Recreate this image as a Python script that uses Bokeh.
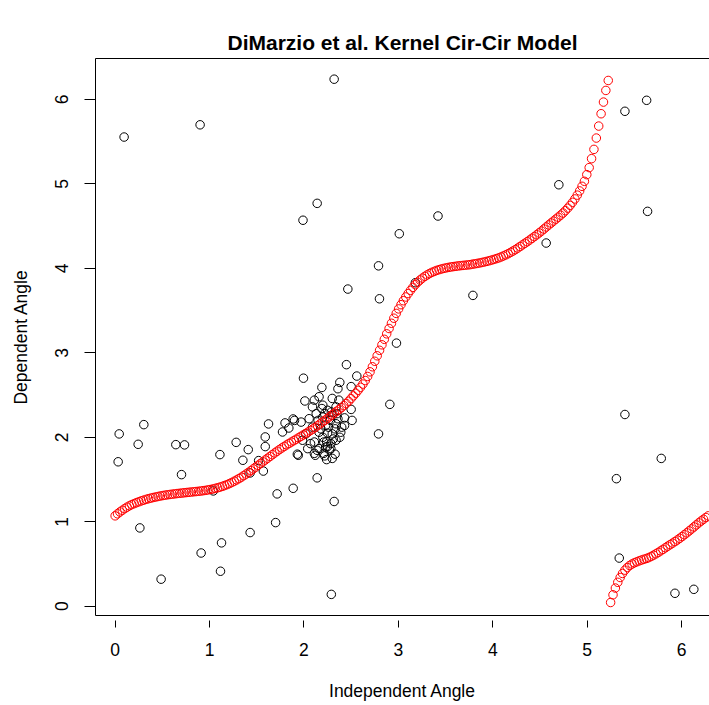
import numpy as np
from bokeh.plotting import figure
from bokeh.models import Range1d, FixedTicker, LinearAxis
from bokeh.embed import file_html
from bokeh.resources import INLINE

# ---- data ----
# kernel regression curve, evaluated on a 250-point grid over [0, 2*pi]
curve_y = [
    1.070, 1.094, 1.116, 1.136, 1.155, 1.173, 1.189, 1.203, 1.215, 1.226,
    1.237, 1.247, 1.256, 1.265, 1.273, 1.280, 1.287, 1.293, 1.299, 1.305,
    1.310, 1.315, 1.319, 1.323, 1.327, 1.330, 1.334, 1.337, 1.340, 1.343,
    1.346, 1.349, 1.352, 1.355, 1.358, 1.361, 1.364, 1.368, 1.372, 1.377,
    1.382, 1.388, 1.395, 1.402, 1.410, 1.419, 1.429, 1.440, 1.452, 1.465,
    1.480, 1.495, 1.511, 1.528, 1.546, 1.565, 1.585, 1.605, 1.626, 1.647,
    1.668, 1.689, 1.710, 1.731, 1.752, 1.773, 1.794, 1.815, 1.835, 1.855,
    1.874, 1.892, 1.910, 1.927, 1.944, 1.960, 1.977, 1.994, 2.011, 2.028,
    2.045, 2.062, 2.080, 2.098, 2.117, 2.137, 2.158, 2.179, 2.200, 2.221,
    2.243, 2.265, 2.286, 2.308, 2.329, 2.351, 2.375, 2.400, 2.427, 2.458,
    2.490, 2.522, 2.556, 2.592, 2.630, 2.672, 2.720, 2.775, 2.835, 2.900,
    2.965, 3.030, 3.095, 3.160, 3.225, 3.288, 3.350, 3.410, 3.467, 3.520,
    3.570, 3.617, 3.661, 3.702, 3.740, 3.775, 3.807, 3.836, 3.862, 3.885,
    3.905, 3.923, 3.939, 3.953, 3.965, 3.976, 3.985, 3.993, 4.000, 4.006,
    4.012, 4.017, 4.021, 4.025, 4.029, 4.032, 4.035, 4.038, 4.041, 4.044,
    4.050, 4.054, 4.059, 4.064, 4.070, 4.076, 4.083, 4.090, 4.098, 4.106,
    4.115, 4.124, 4.135, 4.147, 4.160, 4.174, 4.189, 4.205, 4.222, 4.240,
    4.259, 4.278, 4.297, 4.316, 4.336, 4.356, 4.377, 4.398, 4.420, 4.442,
    4.466, 4.490, 4.514, 4.537, 4.560, 4.583, 4.606, 4.630, 4.655, 4.683,
    4.713, 4.746, 4.782, 4.822, 4.867, 4.917, 4.972, 5.031, 5.110, 5.193,
    5.299, 5.409, 5.543, 5.685, 5.831, 5.969, 6.107, 6.225, 0.044, 0.135,
    0.215, 0.283, 0.340, 0.388, 0.427, 0.458, 0.482, 0.500, 0.514, 0.526,
    0.537, 0.547, 0.556, 0.565, 0.575, 0.589, 0.604, 0.620, 0.637, 0.655,
    0.673, 0.692, 0.711, 0.729, 0.747, 0.765, 0.784, 0.804, 0.825, 0.847,
    0.869, 0.892, 0.915, 0.939, 0.963, 0.987, 1.009, 1.030, 1.050, 1.070,
]

# observed angles (independent, dependent)
obs_x = [
    0.095, 0.90, 2.32, 1.99, 2.14, 3.42, 3.01, 4.70, 5.40, 5.63,
    5.64, 4.566, 3.79, 2.79, 2.465, 2.80, 3.18, 2.98, 2.45, 2.56,
    2.38, 2.50, 2.36, 2.91, 2.50, 2.30,
    5.40, 5.785, 5.31, 5.34, 5.93, 6.13,
    2.29, 2.32, 2.79,
    0.043, 0.032, 0.244, 0.304, 0.262, 0.487, 0.643, 0.735, 0.703, 0.911,
    1.04, 1.11, 1.127, 1.116, 1.282, 1.353, 1.41, 1.43, 1.43, 1.52,
    1.57, 1.59, 1.59, 1.625, 1.70, 1.716, 1.773, 1.80, 1.84, 1.886,
    1.886, 1.93,
    1.995, 2.19, 2.01, 2.11, 2.16, 2.37, 2.09, 2.20, 2.25, 2.34,
    2.13, 2.055, 2.20, 2.30, 2.43, 2.51, 1.97, 1.90, 2.09, 2.23,
    2.34, 2.43, 2.02, 2.16, 2.30, 2.39, 1.985, 2.11, 2.21, 2.34,
    2.04, 2.14, 2.23, 2.285, 1.94, 2.12, 2.24, 2.14, 2.25, 2.11,
    2.07, 2.16, 2.21, 2.285,
    2.18, 2.25, 2.28, 2.33, 2.22, 2.36, 2.26, 2.20, 2.31, 2.38,
    2.15, 2.24, 2.29, 2.19, 2.35, 2.40, 2.27, 2.33, 2.22, 2.30,
]
obs_y = [
    5.555, 5.70, 6.24, 4.57, 4.77, 4.62, 4.41, 4.99, 5.86, 5.99,
    4.675, 4.30, 3.68, 4.03, 3.755, 3.64, 3.83, 3.115, 2.86, 2.725,
    2.65, 2.60, 2.575, 2.39, 2.33, 2.46,
    2.27, 1.75, 1.51, 0.57, 0.153, 0.20,
    0.14, 1.24, 2.04,
    2.04, 1.71, 1.917, 2.15, 0.927, 0.32, 1.913, 1.91, 1.558, 0.63,
    1.365, 1.795, 0.75, 0.414, 1.94, 1.728, 1.854, 0.872, 1.578, 1.724,
    1.60, 2.004, 1.89, 2.158, 0.99, 1.33, 2.063, 2.17, 2.11, 1.396,
    2.217, 1.80,
    2.70, 2.59, 2.43, 2.44, 2.48, 2.44, 2.36, 2.38, 2.32, 2.36,
    2.28, 2.22, 2.24, 2.26, 2.23, 2.20, 2.18, 2.20, 2.12, 2.14,
    2.16, 2.14, 2.04, 2.06, 2.04, 2.06, 1.965, 1.944, 1.944, 1.965,
    1.866, 1.846, 1.885, 1.925, 1.787, 1.787, 1.736, 1.52, 1.89, 1.81,
    1.925, 1.866, 1.81, 1.866,
    2.10, 2.05, 2.20, 2.10, 2.28, 2.22, 2.12, 2.00, 1.98, 2.00,
    2.20, 1.95, 2.30, 2.34, 2.28, 2.12, 1.85, 1.80, 1.78, 1.75,
]

x_ticks = [0, 1, 2, 3, 4, 5, 6]
y_ticks = [0, 1, 2, 3, 4, 5, 6]

title_text = "DiMarzio et al. Kernel Cir-Cir Model"
x_label = "Independent Angle"
y_label = "Dependent Angle"

grid_x = np.linspace(0.0, 2.0 * np.pi, len(curve_y))

FONT = "Liberation Sans"

p = figure(
    width=709, height=705,
    output_backend="svg", toolbar_location=None,
    x_range=Range1d(-0.208, 6.296), y_range=Range1d(-0.11, 6.485),
    min_border_left=95, min_border_right=0, min_border_top=58, min_border_bottom=90,
    title=title_text,
)
p.background_fill_color = "white"
p.border_fill_color = "white"
p.outline_line_color = None
p.xgrid.visible = False
p.ygrid.visible = False

p.title.text_font = FONT
p.title.text_font_size = "21px"
p.title.text_font_style = "bold"
p.title.align = "center"
p.title.text_color = "black"
p.title.standoff = 9

for ax in (p.xaxis[0], p.yaxis[0]):
    ax.minor_tick_line_color = None
    ax.axis_line_color = "black"
    ax.axis_line_width = 1
    ax.major_tick_line_color = "black"
    ax.major_tick_line_width = 1
    ax.major_label_text_font = FONT
    ax.major_label_text_font_size = "17.5px"
    ax.major_label_text_color = "black"
    ax.axis_label_text_font = FONT
    ax.axis_label_text_font_size = "17.5px"
    ax.axis_label_text_font_style = "normal"
    ax.axis_label_text_color = "black"

p.xaxis.ticker = FixedTicker(ticks=x_ticks)
p.yaxis.ticker = FixedTicker(ticks=y_ticks)
p.xaxis.axis_label = x_label
p.yaxis.axis_label = y_label

p.xaxis.major_tick_in = -5
p.xaxis.major_tick_out = 12
p.xaxis.major_label_standoff = 15
p.xaxis.axis_label_standoff = 22

p.yaxis.major_tick_in = 0
p.yaxis.major_tick_out = 11
p.yaxis.major_label_orientation = "vertical"
p.yaxis.major_label_standoff = 16
p.yaxis.axis_label_standoff = 22

# top edge of the box
top = LinearAxis(
    ticker=FixedTicker(ticks=[]),
    major_tick_line_color=None, minor_tick_line_color=None,
    major_label_text_font_size="0px", axis_line_color="black",
)
p.add_layout(top, "above")

p.scatter(obs_x, obs_y, marker="circle", size=8.5, fill_color=None,
          line_color="black", line_width=1)
p.scatter(grid_x, curve_y, marker="circle", size=8.5, fill_color=None,
          line_color="red", line_width=1)

open("out.html", "w").write(file_html(p, INLINE))
